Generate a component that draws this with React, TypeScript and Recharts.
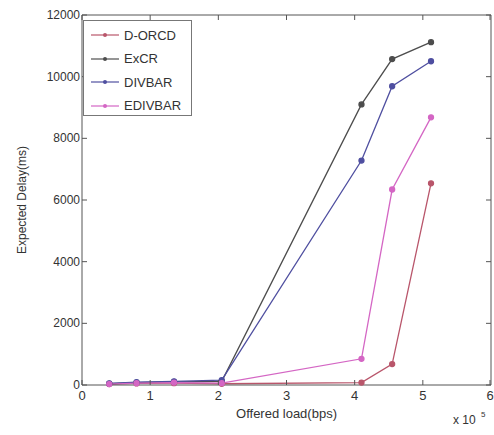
import {Line, LineChart, XAxis, YAxis} from "recharts";

// offered load (x 10^5 bps)
const loads = [0.4, 0.8, 1.35, 2.05, 4.1, 4.55, 5.12];

// expected delay in ms
const dorcd = [30, 50, 60, 40, 80, 680, 6540];
const excr = [40, 80, 100, 120, 9100, 10570, 11120];
const divbar = [50, 90, 120, 160, 7280, 9690, 10500];
const edivbar = [30, 60, 80, 60, 850, 6340, 8680];

const xTicks = [0, 1, 2, 3, 4, 5, 6];
const yTicks = [0, 2000, 4000, 6000, 8000, 10000, 12000];

const series = [
    {key: 'dorcd', name: 'D-ORCD', color: '#b9566b'},
    {key: 'excr', name: 'ExCR', color: '#4d4d4d'},
    {key: 'divbar', name: 'DIVBAR', color: '#4f4fa0'},
    {key: 'edivbar', name: 'EDIVBAR', color: '#d466c4'},
];

const data = loads.map((x, i) => ({
    x: x,
    dorcd: dorcd[i],
    excr: excr[i],
    divbar: divbar[i],
    edivbar: edivbar[i],
}));

const FONT = '"Liberation Sans", Arial, sans-serif';
const AXIS = '#555';

const BottomTick = (props: any) => {
    const {x, y, payload} = props;
    return (
        <g>
            <line x1={x} y1={y} x2={x} y2={y - 5} stroke={AXIS}/>
            <text x={x} y={y + 15} textAnchor="middle" fontSize={13} fill="#333" fontFamily={FONT}>{payload.value}</text>
        </g>
    );
}

const TopTick = (props: any) => {
    const {x, y} = props;
    return <line x1={x} y1={y} x2={x} y2={y + 5} stroke={AXIS}/>;
}

const LeftTick = (props: any) => {
    const {x, y, payload} = props;
    return (
        <g>
            <line x1={x} y1={y} x2={x + 5} y2={y} stroke={AXIS}/>
            <text x={x - 2} y={y + 4} textAnchor="end" fontSize={12} fill="#333" fontFamily={FONT}>{payload.value}</text>
        </g>
    );
}

const RightTick = (props: any) => {
    const {x, y} = props;
    return <line x1={x} y1={y} x2={x - 5} y2={y} stroke={AXIS}/>;
}

const ScaleLabel = (props: any) => {
    const {viewBox} = props;
    const right = viewBox.x + viewBox.width;
    return (
        <g fontFamily={FONT} fill="#333">
            <text x={viewBox.x + viewBox.width / 2} y={viewBox.y + 33} textAnchor="middle" fontSize={13}>Offered load(bps)</text>
            <text x={right - 38} y={viewBox.y + 39} fontSize={12}>x 10</text>
            <text x={right - 10} y={viewBox.y + 32} fontSize={8}>5</text>
        </g>
    );
}

const Legend = () => (
    <div style={{
        position: 'absolute', left: 83, top: 20, width: 109, height: 96,
        border: '1px solid #777', background: '#fff', boxSizing: 'border-box',
        fontFamily: FONT, fontSize: 13, color: '#333'
    }}>
        {series.map((s, i) => (
            <div key={s.key} style={{position: 'absolute', left: 6, top: 4 + i * 23.5, height: 20, display: 'flex', alignItems: 'center'}}>
                <svg width={30} height={10}>
                    <line x1={1} y1={5} x2={29} y2={5} stroke={s.color} strokeWidth={1.2}/>
                    <circle cx={15} cy={5} r={2} fill={s.color}/>
                </svg>
                <span style={{marginLeft: 4}}>{s.name}</span>
            </div>
        ))}
    </div>
);

export default function App() {
    return (
        <div style={{position: 'absolute', left: 0, top: 0, width: 494, height: 435, background: '#fff'}}>
            <LineChart
                width={494}
                height={435}
                data={data}
                margin={{top: 14, right: 2, bottom: 20, left: 22}}
            >
                <XAxis dataKey="x" type="number" domain={[0, 6]} ticks={xTicks} allowDataOverflow
                       height={30} tickSize={0} tickMargin={0} tick={<BottomTick/>} stroke={AXIS}
                       label={<ScaleLabel/>}/>
                <XAxis xAxisId="top" orientation="top" dataKey="x" type="number" domain={[0, 6]} ticks={xTicks}
                       height={1} tickSize={0} tickMargin={0} tick={<TopTick/>} stroke={AXIS}/>
                <YAxis type="number" domain={[0, 12000]} ticks={yTicks} width={60} tickSize={0} tickMargin={0}
                       tick={<LeftTick/>} stroke={AXIS}
                       label={{value: 'Expected Delay(ms)', angle: -90, position: 'insideLeft', offset: 0,
                           style: {textAnchor: 'middle', fontSize: 12, fill: '#333', fontFamily: FONT}}}/>
                <YAxis yAxisId="right" orientation="right" type="number" domain={[0, 12000]} ticks={yTicks}
                       width={1} tickSize={0} tickMargin={0} tick={<RightTick/>} stroke={AXIS}/>
                {/* invisible series so the top/right frame axes are drawn */}
                <Line xAxisId="top" yAxisId="right" dataKey="excr" stroke="none" dot={false} activeDot={false}
                      legendType="none" isAnimationActive={false}/>
                {series.map(s => (
                    <Line key={s.key} type="linear" dataKey={s.key} name={s.name} stroke={s.color}
                          strokeWidth={1.3} dot={{r: 2.5, fill: s.color, stroke: s.color}}
                          isAnimationActive={false}/>
                ))}
            </LineChart>
            <Legend/>
        </div>
    );
}
